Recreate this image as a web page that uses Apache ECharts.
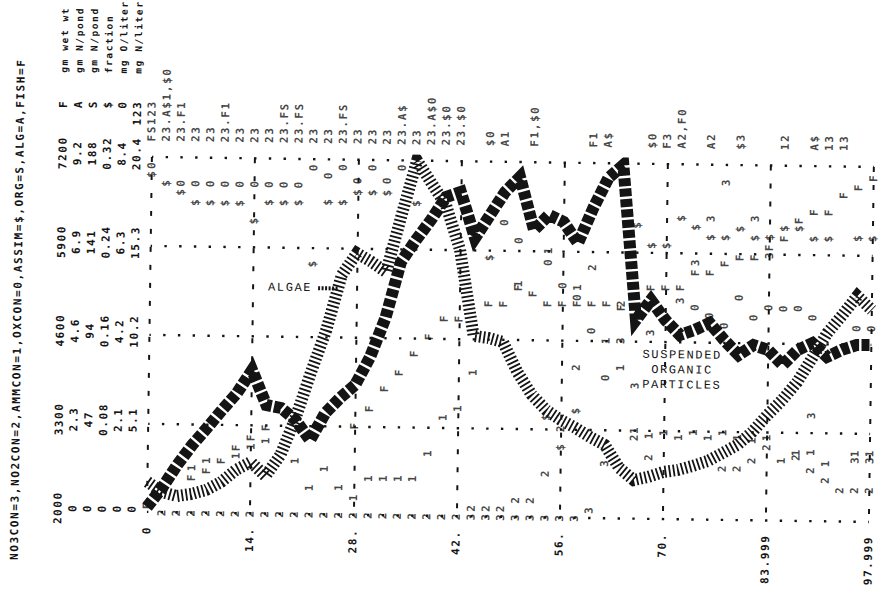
<!DOCTYPE html>
<html>
<head>
<meta charset="utf-8">
<script src="https://cdn.jsdelivr.net/npm/echarts@6/dist/echarts.min.js"></script>
<style>
  html, body { margin: 0; padding: 0; background: #fff; }
  #chart { width: 890px; height: 592px; transform: rotate(0.8deg); transform-origin: 445px 296px; }
  #chart svg text { letter-spacing: 1.6px; }
</style>
</head>
<body>
<div id="chart"></div>
<script>
// Pond simulation printout: time in days, one printed row every 2 days
const DAYS = [0,2,4,6,8,10,12,14,16,18,20,22,24,26,28,30,32,34,36,38,40,42,44,46,48,
              50,52,54,56,58,60,62,64,66,68,70,72,74,76,78,80,82,84,86,88,90,92,94,96,98];

// ALG = A (gm N/pond), hand-traced hatched band
const ALGAE = [0.78,0.52,0.42,0.48,0.59,0.80,1.12,1.33,0.97,1.52,2.49,3.68,4.78,6.21,6.78,6.56,6.30,7.78,9.2,8.62,
               8.06,6.90,4.68,4.63,4.53,3.76,3.17,2.78,2.53,2.33,2.10,1.90,1.31,1.00,1.09,1.22,1.28,1.39,1.52,1.73,
               1.95,2.29,2.73,3.13,3.60,4.23,4.88,5.35,5.85,5.49];
// ORG = S (gm N/pond), hand-traced dark band
const ORG = [2.6,12.8,25.0,35.7,44.9,54.5,63.6,75.9,57.5,56.0,49.7,39.2,53.6,61.8,68.7,83.7,104.4,134.2,146.0,156.7,
             168.9,171.7,147.4,159.7,172.0,180.1,152.1,160.2,156.6,145.5,164.2,180.2,187.2,105.2,115.9,105.4,97.6,100.4,104.2,95.3,
             87.4,92.8,90.3,82.5,90.5,94.3,87.1,90.9,93.6,93.7];
// FISH = F (gm wet wt)
const FISH = [2100,null,null,2519,2624,2773,2967,3116,3266,null,null,null,null,null,3310,3564,3860,4099,4380,4632,
              4899,4899,null,5127,5127,5369,5284,5140,5143,5146,5149,5152,5097,null,5395,5398,5401,5624,5628,5763,
              5854,5857,6006,6141,6408,6529,6531,6784,6904,7039];
// AMMCON = 1 (mg N/liter)
const AMMCON = [null,null,null,2.61,3.03,null,3.34,3.87,4.22,null,3.10,1.56,2.66,1.59,1.02,2.13,2.14,2.15,2.16,3.61,
                5.69,6.22,8.30,null,null,13.45,null,15.37,null,13.27,null,10.24,8.70,5.10,4.82,5.00,4.73,5.03,4.75,5.05,
                4.78,4.61,4.80,3.49,3.96,3.98,3.35,null,3.95,3.96];
// NO2CON = 2 (mg N/liter)
const NO2CON = [null,0,0,0,0,0,0,0,0,0,0,0,0,0,0,0,0,0,0,0,
                0,0,0.5,0.5,0.5,1.0,1.0,2.55,5.15,8.67,14.43,null,12.38,4.69,3.56,null,null,null,null,2.98,
                2.99,3.46,4.23,null,3.68,2.94,2.38,1.82,1.83,1.84];
// NO3CON = 3 (mg N/liter)
const NO3CON = [null,null,null,null,null,null,null,null,null,null,null,null,null,null,null,null,null,null,null,null,
                null,null,0,0,0,0,0,0,0,0,0.47,3.18,10.25,7.68,10.74,null,12.6,14.79,17.33,19.41,
                null,17.37,15.26,null,null,6.1,null,null,3.55,3.56];
// OXCON = 0 (mg O/liter)
const OXCON = [8.21,null,7.8,7.8,7.8,7.8,7.8,7.8,7.8,7.8,7.8,8.21,8.03,8.23,7.92,8.23,7.93,8.24,null,null,
               null,null,null,null,6.98,6.56,null,6.05,5.51,5.23,4.45,3.34,null,null,null,null,null,5.03,4.84,4.61,
               5.28,4.81,5.05,5.03,5.04,4.83,null,null,4.59,4.59];
// ASSIM = $ (fraction)
const ASSIM = [0.305,0.297,0.289,0.280,0.280,0.280,0.280,0.264,0.281,0.281,0.281,0.226,0.282,0.282,0.291,0.291,0.291,null,0.282,null,
               null,null,null,0.234,null,null,null,0.091,0.064,0.097,null,null,null,0.265,0.247,0.247,0.272,0.264,0.255,0.255,
               0.263,0.255,0.256,0.264,0.264,0.255,0.255,null,0.256,0.256];
// symbols printed above the frame on each row
const OVERPRINT = ['FS123','23.A$1,$0','23.F1','23','23','23.F1','23','23','23','23.FS',
                   '23.FS','23','23','23.FS','23','23','23','23.A$','23','23.A$0',
                   '23.$0','23.$0','','$0','A1','','F1,$0','','','',
                   'F1','A$','','','$0','F3','A2,F0','','A2','',
                   '$3','','','12','','A$','13','13','',''];

// scale headings and tick labels
const X_TICKS = ['0','14.','28.','42.','56.','70.','83.999','97.999'];
const FISH_TICKS = ['2000','3300','4600','5900','7200'];
const ALG_TICKS = ['0','2.3','4.6','6.9','9.2'];
const ORG_TICKS = ['0','47','94','141','188'];
const ASSIM_TICKS = ['0','0.08','0.16','0.24','0.32'];
const OX_TICKS = ['0','2.1','4.2','6.3','8.4'];
const N_TICKS = ['0','5.1','10.2','15.3','20.4'];
const SCALE_SYMBOLS = ['F','A','S','$','0','123'];
const SCALE_UNITS = ['gm wet wt','gm N/pond','gm N/pond','fraction','mg O/liter','mg N/liter'];
const TITLE = 'NO3CON=3,NO2CON=2,AMMCON=1,OXCON=0,ASSIM=$,ORG=S,ALG=A,FISH=F';

const INK = '#141414';
const MONO = 'DejaVu Sans Mono';

const GRID = { left: 150, right: 18, top: 161, bottom: 76 };
const COL_X = [61, 75.8, 90.6, 105.4, 120.2, 135];

const scales = [
  { min: 2000, max: 7200, step: 1300, ticks: FISH_TICKS },
  { min: 0, max: 9.2, step: 2.3, ticks: ALG_TICKS },
  { min: 0, max: 188, step: 47, ticks: ORG_TICKS },
  { min: 0, max: 0.32, step: 0.08, ticks: ASSIM_TICKS },
  { min: 0, max: 8.4, step: 2.1, ticks: OX_TICKS },
  { min: 0, max: 20.4, step: 5.1, ticks: N_TICKS }
];

const yAxes = scales.map((s, i) => ({
  type: 'value',
  min: s.min, max: s.max, interval: s.step,
  position: 'left',
  offset: GRID.left - COL_X[i],
  axisLine: { show: false },
  axisTick: { show: false },
  splitLine: {
    show: i === 1,
    lineStyle: { color: INK, width: 2.4, type: [2.4, 12.34], dashOffset: 1.2 }
  },
  axisLabel: {
    show: true, rotate: 90, margin: 0, align: 'center', verticalAlign: 'middle',
    padding: [0, 0, 0, 6],
    showMinLabel: true, showMaxLabel: true,
    fontFamily: MONO, fontSize: 11, fontWeight: 'bold', color: INK,
    formatter: (v) => {
      const k = Math.round((v - s.min) / s.step);
      return (k >= 0 && k < s.ticks.length && Math.abs(v - (s.min + k * s.step)) < s.step * 0.01) ? s.ticks[k] : '';
    }
  }
}));

function pts(vals) {
  const out = [];
  vals.forEach((v, i) => { if (v !== null) out.push([DAYS[i], v]); });
  return out;
}

function charSeries(name, ch, vals, axis) {
  return {
    type: 'scatter', name: name, yAxisIndex: axis, data: pts(vals),
    symbol: 'rect', symbolSize: 1, itemStyle: { color: 'rgba(0,0,0,0)' },
    silent: true, clip: false, z: 3,
    label: {
      show: true, position: 'inside', formatter: () => ch, rotate: 90,
      align: 'center', verticalAlign: 'middle',
      fontFamily: MONO, fontSize: 11, fontWeight: 'bold', color: INK
    }
  };
}

const overData = [];
OVERPRINT.forEach((s, i) => { if (s) overData.push({ value: [DAYS[i], 9.2], name: s }); });

const series = [
  charSeries('FISH', 'F', FISH, 0),
  charSeries('AMMCON', '1', AMMCON, 5),
  charSeries('NO2CON', '2', NO2CON, 5),
  charSeries('NO3CON', '3', NO3CON, 5),
  charSeries('OXCON', '0', OXCON, 4),
  charSeries('ASSIM', '$', ASSIM, 3),
  {
    type: 'scatter', name: 'overprint', yAxisIndex: 1, data: overData,
    symbol: 'rect', symbolSize: 1, itemStyle: { color: 'rgba(0,0,0,0)' },
    silent: true, clip: false, z: 3,
    label: {
      show: true, position: [0, -15], formatter: (p) => p.name, rotate: 90,
      align: 'left', verticalAlign: 'middle',
      fontFamily: MONO, fontSize: 11, fontWeight: 'bold', color: INK
    }
  },
  {
    type: 'line', name: 'ALGAE', yAxisIndex: 1, data: pts(ALGAE),
    symbol: 'none', silent: true, z: 5,
    lineStyle: { color: INK, width: 12, type: [1.8, 2.4], cap: 'butt', join: 'miter' }
  },
  {
    type: 'line', name: 'SUSPENDED ORGANIC PARTICLES', yAxisIndex: 2, data: pts(ORG),
    symbol: 'none', silent: true, z: 6,
    lineStyle: { color: INK, width: 12, type: [8, 2.4], cap: 'butt', join: 'miter' }
  }
];

// rotated headings on the left: title, scale symbols, units
const HEAD_FONT = 'bold 11px "DejaVu Sans Mono"';
const UNIT_FONT = 'bold 9.5px "DejaVu Sans Mono"';
const CAPTION_FONT = '12px "Liberation Mono"';
const graphics = [
  {
    type: 'text', x: 18, y: 566, rotation: Math.PI / 2,
    style: { text: TITLE, fill: INK, font: HEAD_FONT, align: 'left', verticalAlign: 'middle' }
  }
];
COL_X.forEach((cx, i) => {
  graphics.push({
    type: 'text', x: cx, y: 105, rotation: Math.PI / 2,
    style: { text: SCALE_SYMBOLS[i], fill: INK, font: HEAD_FONT, align: 'right', verticalAlign: 'middle' }
  });
  graphics.push({
    type: 'text', x: cx, y: 78, rotation: Math.PI / 2,
    style: { text: SCALE_UNITS[i], fill: INK, font: UNIT_FONT, align: 'left', verticalAlign: 'middle' }
  });
});
// typed captions
graphics.push(
  { type: 'text', x: 268, y: 290, style: { text: 'ALGAE', fill: INK, font: CAPTION_FONT, align: 'left', verticalAlign: 'middle' } },
  { type: 'line', shape: { x1: 318, y1: 290, x2: 338, y2: 290 }, style: { stroke: INK, lineWidth: 4, lineDash: [2, 1.5] } },
  { type: 'text', x: 683, y: 352, style: { text: 'SUSPENDED', fill: INK, font: CAPTION_FONT, align: 'center', verticalAlign: 'middle' } },
  { type: 'text', x: 683, y: 367, style: { text: 'ORGANIC', fill: INK, font: CAPTION_FONT, align: 'center', verticalAlign: 'middle' } },
  { type: 'text', x: 683, y: 382, style: { text: 'PARTICLES', fill: INK, font: CAPTION_FONT, align: 'center', verticalAlign: 'middle' } }
);

const chart = echarts.init(document.getElementById('chart'), null, { renderer: 'svg' });
chart.setOption({
  animation: false,
  backgroundColor: '#ffffff',
  grid: GRID,
  xAxis: {
    type: 'value', min: 0, max: 98, interval: 14,
    axisLine: { show: false }, axisTick: { show: false },
    splitLine: { show: true, lineStyle: { color: INK, width: 2, type: [5, 13] } },
    axisLabel: {
      rotate: 90, margin: 14, align: 'right', verticalAlign: 'middle',
      showMinLabel: true, showMaxLabel: true,
      fontFamily: MONO, fontSize: 11, fontWeight: 'bold', color: INK,
      formatter: (v) => X_TICKS[Math.round(v / 14)] || ''
    }
  },
  yAxis: yAxes,
  series: series,
  graphic: graphics
});
</script>
</body>
</html>
